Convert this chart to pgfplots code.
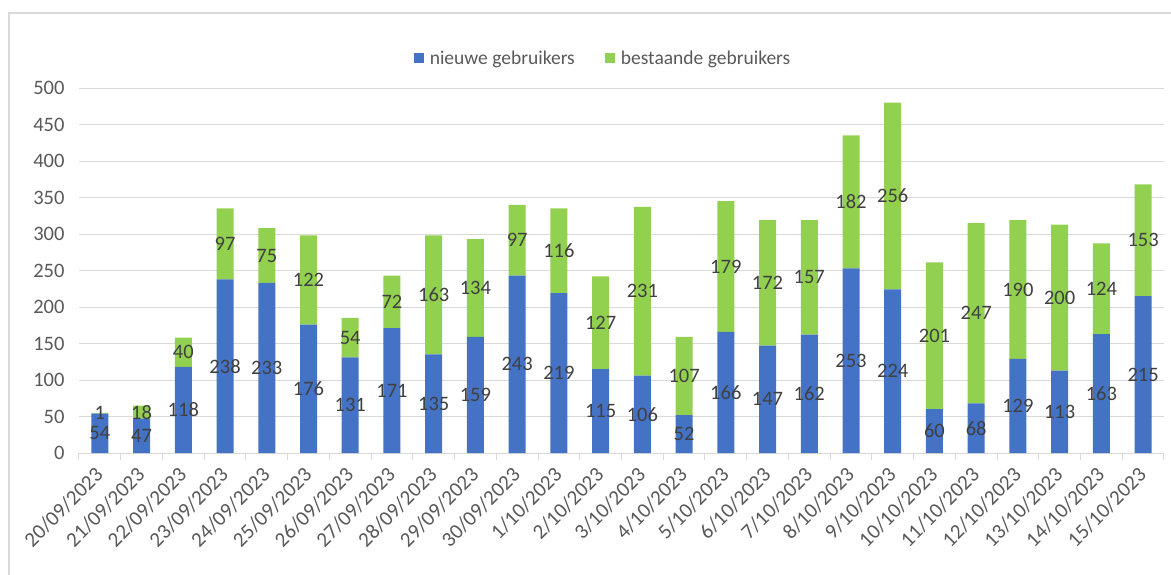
\documentclass[border=0pt]{standalone}
\usepackage{fontspec}
\setmainfont{Carlito}
\usepackage{pgfplots}
\usepackage{pgfplotstable}
\pgfplotsset{compat=1.18}
\definecolor{cblue}{HTML}{4472C4}
\definecolor{cgreen}{HTML}{92D050}
\definecolor{gridc}{HTML}{D9D9D9}
\definecolor{tickc}{HTML}{595959}
\definecolor{labc}{HTML}{404040}
\pgfplotstableread{
x n o
0 54 1
1 47 18
2 118 40
3 238 97
4 233 75
5 176 122
6 131 54
7 171 72
8 135 163
9 159 134
10 243 97
11 219 116
12 115 127
13 106 231
14 52 107
15 166 179
16 147 172
17 162 157
18 253 182
19 224 256
20 60 201
21 68 247
22 129 190
23 113 200
24 163 124
25 215 153
}\data
\pgfplotsset{
  /pgf/number format/assume math mode=true,
  base/.style={
    at={(79pt,121pt)}, anchor=south west,
    scale only axis, width=1085pt, height=365pt,
    xmin=-0.5, xmax=25.5, ymin=0, ymax=500,
  }
}
\begin{document}
\begin{tikzpicture}
\path[use as bounding box] (0,0) rectangle (1171pt,574pt);
\draw[gridc, line width=1.2pt] (9pt,-10pt) -- (9pt,561pt) -- (1190pt,561pt);
\begin{axis}[base,
  ybar stacked, bar width=17pt,
  axis x line*=bottom, axis y line*=left,
  y axis line style={draw=none},
  x axis line style={draw=gridc, line width=1pt},
  ymajorgrids, grid style={gridc, line width=1pt},
  ytick={0,50,...,500},
  xtick={0,...,25},
  xticklabels={20/09/2023,21/09/2023,22/09/2023,23/09/2023,24/09/2023,25/09/2023,26/09/2023,27/09/2023,28/09/2023,29/09/2023,30/09/2023,1/10/2023,2/10/2023,3/10/2023,4/10/2023,5/10/2023,6/10/2023,7/10/2023,8/10/2023,9/10/2023,10/10/2023,11/10/2023,12/10/2023,13/10/2023,14/10/2023,15/10/2023},
  minor xtick={-0.5,0.5,...,25.5},
  major tick length=0pt,
  minor tick length=7pt,
  tick align=outside,
  minor tick style={gridc, line width=1pt},
  ticklabel style={font=\fontsize{20.5}{23}\selectfont, text=tickc},
  yticklabel style={xshift=-11pt},
  xticklabel style={font=\fontsize{21}{23}\selectfont, xshift=2pt, yshift=-16pt, rotate=45, anchor=east},
  legend columns=2,
  legend style={draw=none, fill=none, at={(0.483,1.081)}, anchor=center,
    font=\fontsize{19.5}{21}\selectfont, text=tickc,
    /tikz/every odd column/.append style={column sep=4pt},
    /tikz/every even column/.append style={column sep=28pt}},
  legend image code/.code={\fill[#1] (0pt,-5pt) rectangle (10pt,5pt);},
]
\addplot[fill=cblue, draw=none] table[x=x, y=n] {\data};
\addlegendentry{nieuwe gebruikers}
\addplot[fill=cgreen, draw=none] table[x=x, y=o] {\data};
\addlegendentry{bestaande gebruikers}
\end{axis}
\begin{axis}[base, hide axis, clip=false,
  nodes near coords, point meta=explicit,
  every node near coord/.append style={anchor=center, inner sep=0pt,
    font=\fontsize{20.5}{22}\selectfont, text=labc},
]
\addplot[draw=none, mark=none, nodes near coords align={center}] table[x=x, y expr=\thisrow{n}/2, meta=n] {\data};
\addplot[draw=none, mark=none, nodes near coords align={center}] table[x=x, y expr=\thisrow{n}+\thisrow{o}/2, meta=o] {\data};
\end{axis}
\end{tikzpicture}
\end{document}
